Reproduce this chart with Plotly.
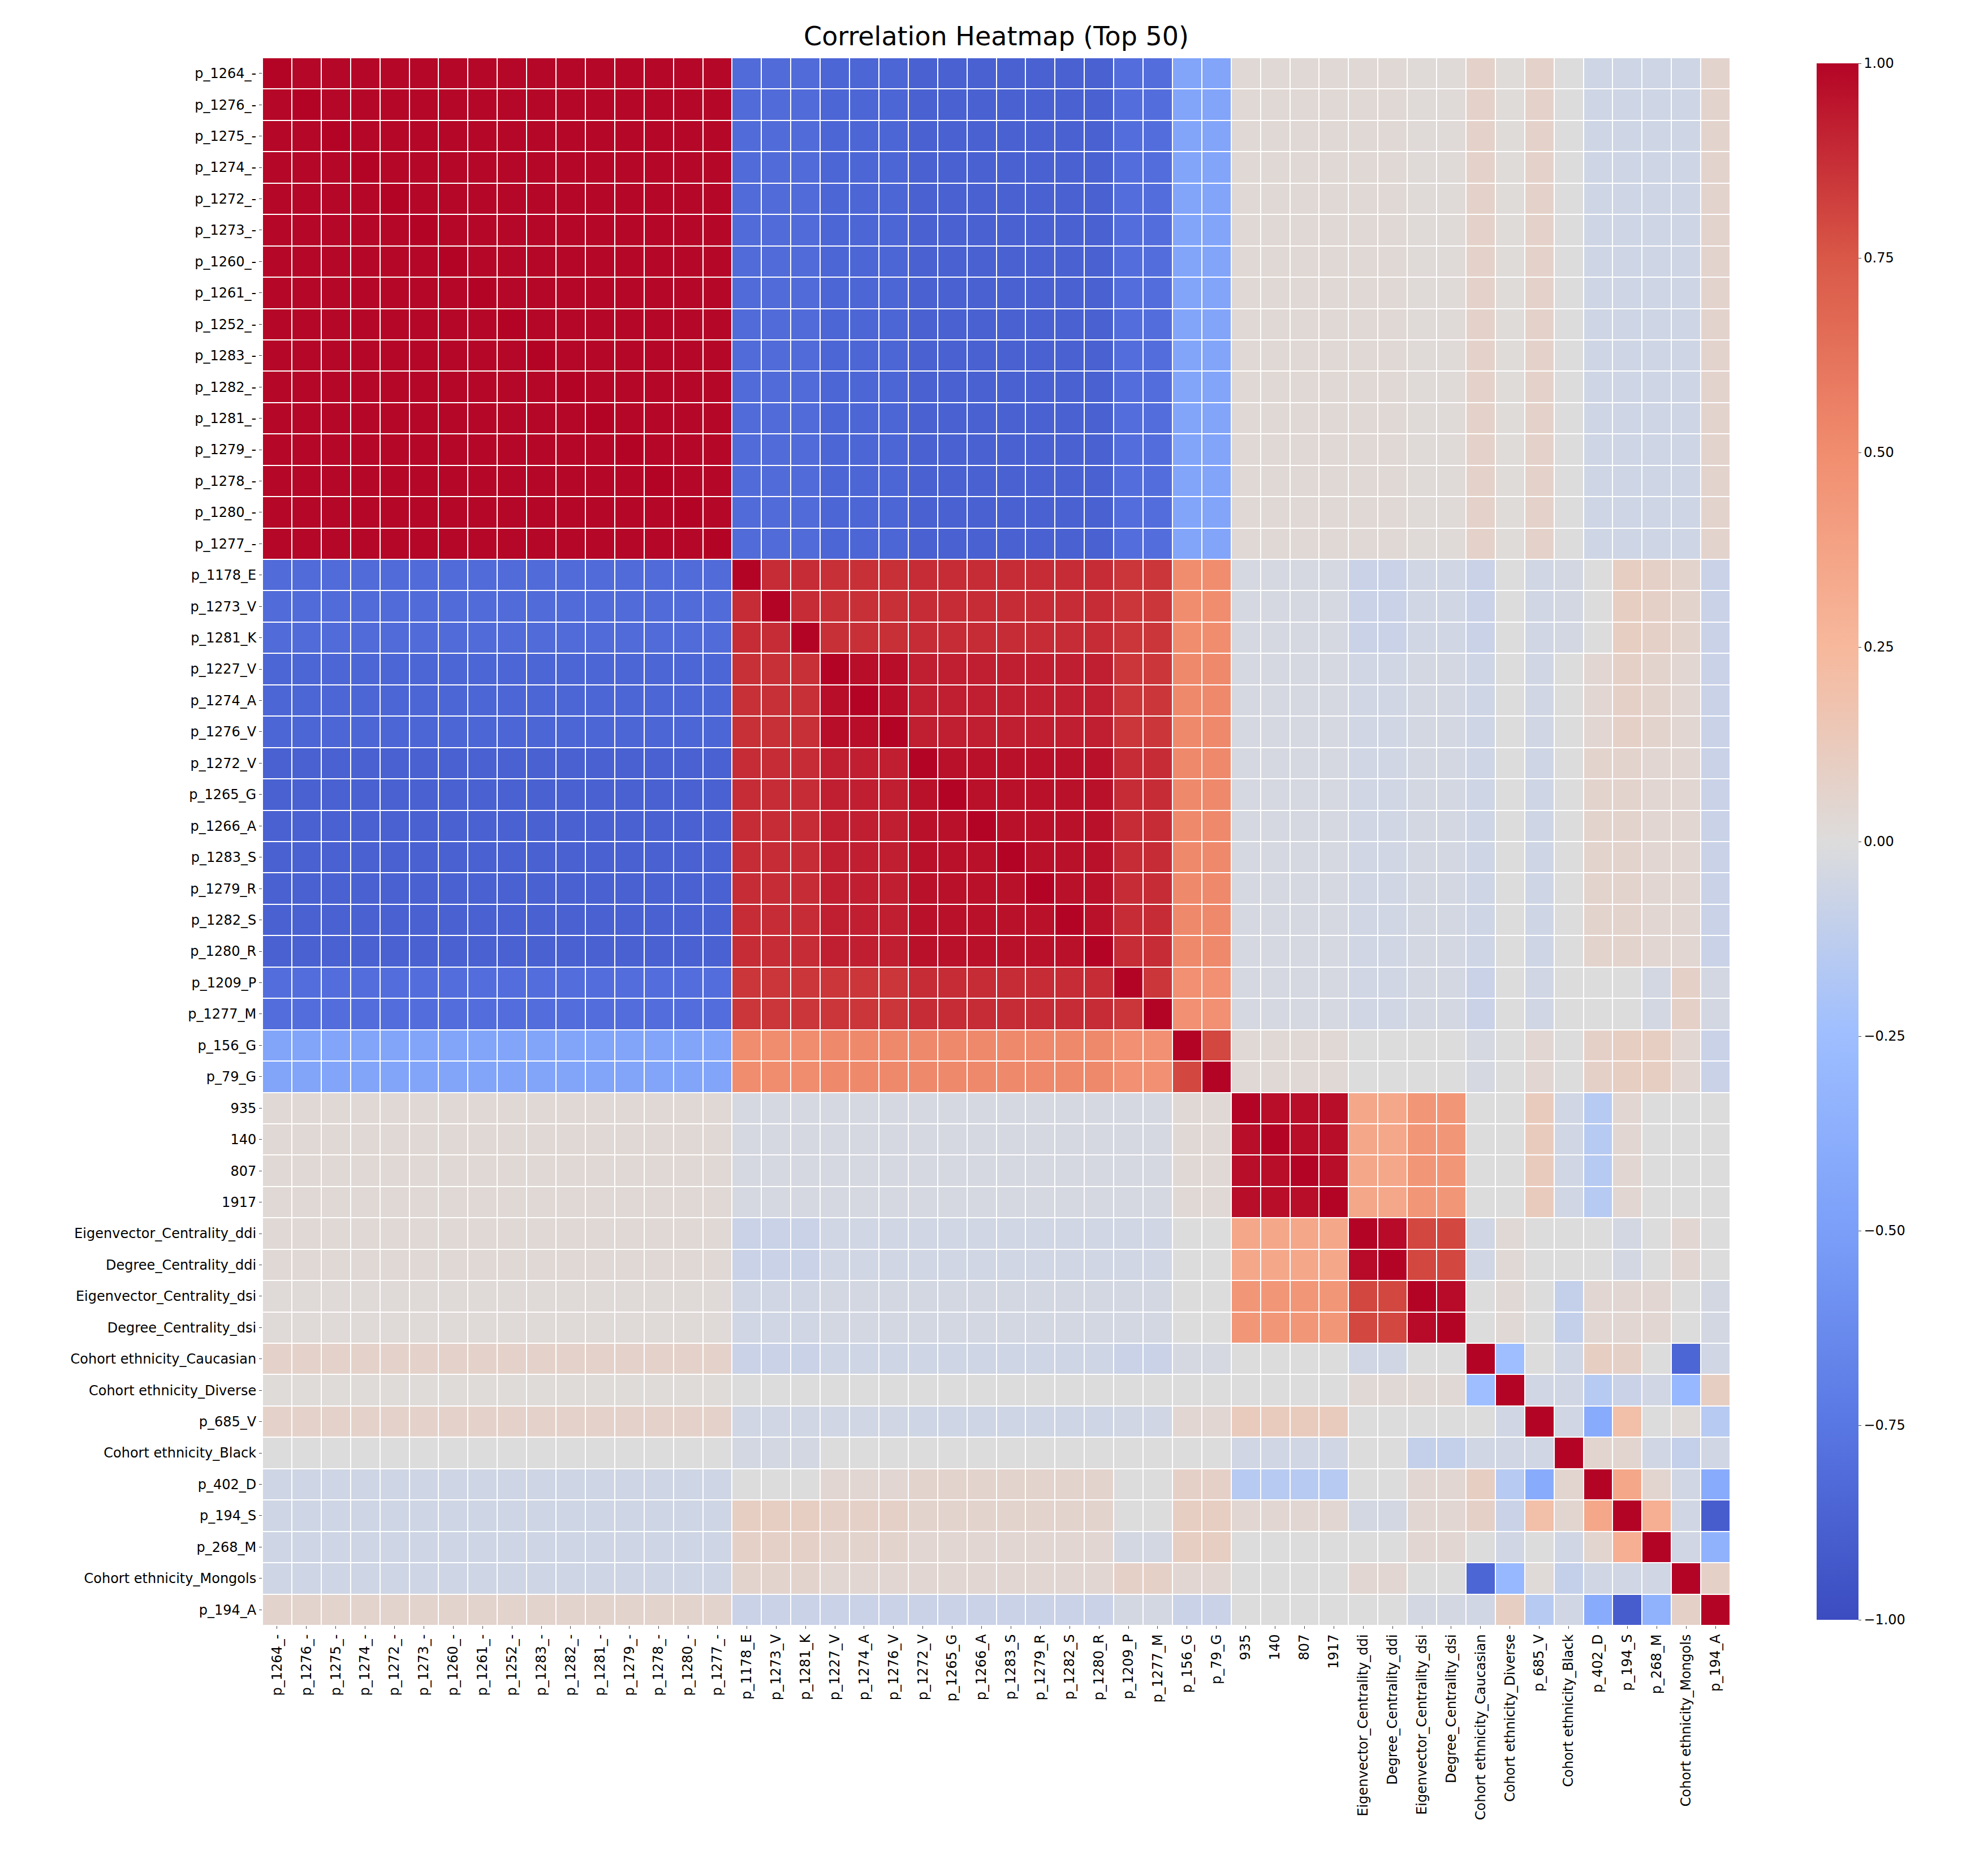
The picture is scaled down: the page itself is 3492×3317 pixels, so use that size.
import plotly.graph_objects as go
import numpy as np

labels = ["p_1264_-","p_1276_-","p_1275_-","p_1274_-","p_1272_-","p_1273_-","p_1260_-","p_1261_-",
          "p_1252_-","p_1283_-","p_1282_-","p_1281_-","p_1279_-","p_1278_-","p_1280_-","p_1277_-",
          "p_1178_E","p_1273_V","p_1281_K","p_1227_V","p_1274_A","p_1276_V","p_1272_V","p_1265_G",
          "p_1266_A","p_1283_S","p_1279_R","p_1282_S","p_1280_R","p_1209_P","p_1277_M","p_156_G","p_79_G",
          "935","140","807","1917","Eigenvector_Centrality_ddi","Degree_Centrality_ddi",
          "Eigenvector_Centrality_dsi","Degree_Centrality_dsi","Cohort ethnicity_Caucasian",
          "Cohort ethnicity_Diverse","p_685_V","Cohort ethnicity_Black","p_402_D","p_194_S","p_268_M",
          "Cohort ethnicity_Mongols","p_194_A"]
# group sizes: A, B1, B2, B3, B4, C, D, E, F
group_sizes = [16, 3, 3, 7, 2, 2, 4, 2, 2]
block = [
 [0.99,-0.82,-0.85,-0.88,-0.80,-0.45, 0.03, 0.03, 0.02],
 [-0.82,0.88, 0.87, 0.88, 0.85, 0.50,-0.03,-0.08,-0.05],
 [-0.85,0.87, 0.97, 0.92, 0.85, 0.52,-0.03,-0.05,-0.04],
 [-0.88,0.88, 0.92, 0.96, 0.88, 0.52,-0.03,-0.05,-0.04],
 [-0.80,0.85, 0.85, 0.88, 0.85, 0.48,-0.03,-0.05,-0.04],
 [-0.45,0.50, 0.52, 0.52, 0.48, 0.80, 0.03, 0.00, 0.00],
 [0.03,-0.03,-0.03,-0.03,-0.03, 0.03, 0.97, 0.35, 0.45],
 [0.03,-0.08,-0.05,-0.05,-0.05, 0.00, 0.35, 0.98, 0.80],
 [0.02,-0.05,-0.04,-0.04,-0.04, 0.00, 0.45, 0.80, 0.98],
]
# last 9 variables vs groups A..F
g_vs_groups = [
 [0.07,-0.08,-0.06,-0.06,-0.08,-0.03, 0.00,-0.05, 0.00],
 [0.01, 0.00, 0.00, 0.00, 0.00, 0.00, 0.00, 0.03, 0.03],
 [0.07,-0.05,-0.05,-0.06,-0.05, 0.04, 0.12, 0.00, 0.00],
 [0.00,-0.04, 0.00, 0.00, 0.00, 0.00,-0.05, 0.00,-0.10],
 [-0.06,0.00, 0.04, 0.06, 0.00, 0.08,-0.15, 0.00, 0.04],
 [-0.06,0.10, 0.08, 0.06, 0.00, 0.10, 0.04,-0.04, 0.04],
 [-0.06,0.08, 0.06, 0.04,-0.04, 0.10, 0.00, 0.00, 0.04],
 [-0.06,0.06, 0.04, 0.04, 0.08, 0.04, 0.00, 0.04, 0.00],
 [0.06,-0.08,-0.08,-0.08,-0.04,-0.08, 0.00, 0.00,-0.04],
]
g_g = [
 [1.00,-0.25, 0.00,-0.05, 0.10, 0.08, 0.00,-0.85,-0.05],
 [-0.25,1.00,-0.05,-0.05,-0.15,-0.08,-0.05,-0.30, 0.10],
 [0.00,-0.05, 1.00,-0.05,-0.40, 0.20, 0.00, 0.02,-0.15],
 [-0.05,-0.05,-0.05,1.00, 0.05, 0.05,-0.05,-0.10,-0.05],
 [0.10,-0.15,-0.40, 0.05, 1.00, 0.35, 0.05,-0.05,-0.40],
 [0.08,-0.08, 0.20, 0.05, 0.35, 1.00, 0.30,-0.05,-0.90],
 [0.00,-0.05, 0.00,-0.05, 0.05, 0.30, 1.00,-0.05,-0.35],
 [-0.85,-0.30,0.02,-0.10,-0.05,-0.05,-0.05, 1.00, 0.08],
 [-0.05,0.10,-0.15,-0.05,-0.40,-0.90,-0.35, 0.08, 1.00],
]

n = len(labels)
gid = []
for g, s in enumerate(group_sizes):
    gid += [g] * s
M = np.zeros((n, n))
ng = len(gid)
for i in range(ng):
    for j in range(ng):
        M[i, j] = block[gid[i]][gid[j]]
for k in range(9):
    for j in range(ng):
        M[ng + k, j] = M[j, ng + k] = g_vs_groups[k][gid[j]]
    for l in range(9):
        M[ng + k, ng + l] = g_g[k][l]
np.fill_diagonal(M, 1.0)

coolwarm = [[0.0,"#3b4cc0"],[0.125,"#5977e3"],[0.25,"#7b9ff9"],[0.375,"#9ebeff"],[0.5,"#dddcdc"],
            [0.625,"#f7b89c"],[0.75,"#f18d6f"],[0.875,"#d95847"],[1.0,"#b40426"]]

fig = go.Figure(go.Heatmap(
    z=M, x=labels, y=labels, zmin=-1, zmax=1, colorscale=coolwarm, xgap=2, ygap=2,
    colorbar=dict(x=1.055, xanchor="left", len=1, lenmode="fraction", y=0.5, yanchor="middle",
                  thickness=74, tickvals=[-1,-0.75,-0.5,-0.25,0,0.25,0.5,0.75,1],
                  ticktext=["−1.00","−0.75","−0.50","−0.25","0.00","0.25","0.50","0.75","1.00"],
                  tickfont=dict(size=24, family="DejaVu Sans"), outlinewidth=0, ticks="outside")))
fig.update_layout(
    width=3492, height=3317, paper_bgcolor="white", plot_bgcolor="white",
    title=dict(text="Correlation Heatmap (Top 50)", x=0.5, xref="paper", y=0.988,
               font=dict(size=46, family="DejaVu Sans", color="black")),
    margin=dict(l=456, r=441, t=94, b=451),
    font=dict(family="DejaVu Sans", color="black"),
)
fig.update_xaxes(tickangle=-90, tickfont=dict(size=24), ticks="outside", showgrid=False, zeroline=False)
fig.update_yaxes(autorange="reversed", tickfont=dict(size=24), ticks="outside", showgrid=False, zeroline=False)
fig.write_html("out.html")
